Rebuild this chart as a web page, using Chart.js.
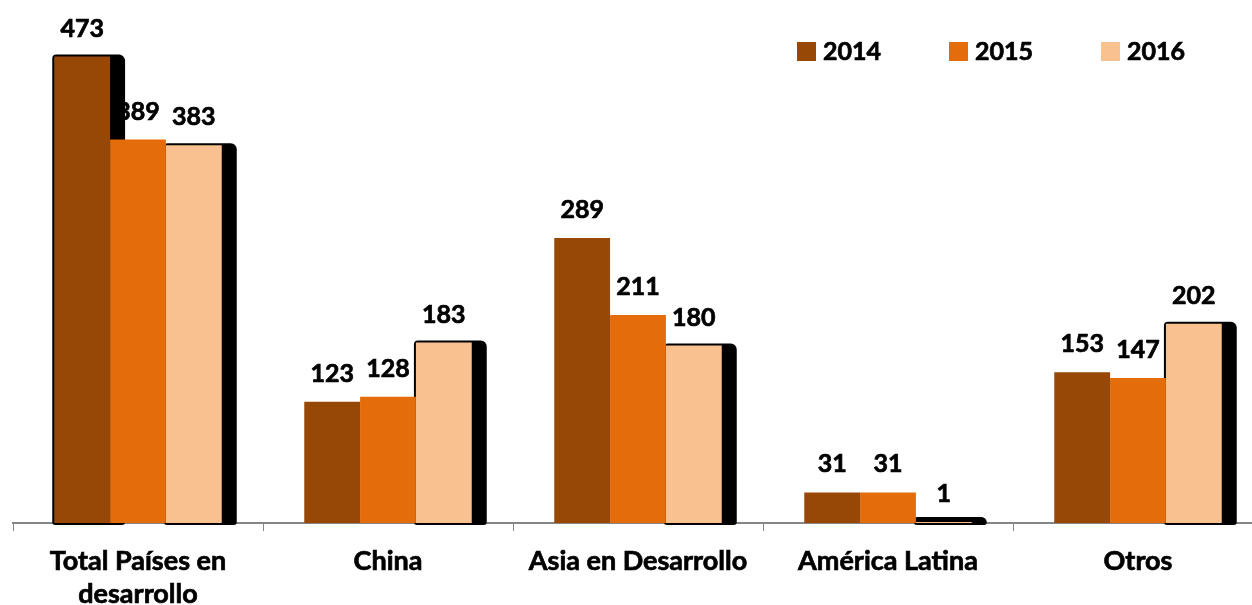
<!DOCTYPE html>
<html lang="es">

<head>
    <meta charset="UTF-8" />
    <title>Países en desarrollo 2014-2016</title>
    <script src="https://cdn.jsdelivr.net/npm/chart.js"></script>
    <style>
        body { margin: 0; background: #fff; overflow: hidden; }
        #wrap { width: 1263px; height: 605px; }
    </style>
</head>

<body>
    <div id="wrap">
        <canvas id="regionChart" width="1263" height="605"></canvas>
    </div>

    <script>
        const categories = [['Total Países en', 'desarrollo'], 'China', 'Asia en Desarrollo', 'América Latina', 'Otros'];
        const years = ['2014', '2015', '2016'];
        const values2014 = [473, 123, 289, 31, 153];
        const values2015 = [389, 128, 211, 31, 147];
        const values2016 = [383, 183, 180, 1, 202];

        const colors = ['#974807', '#E46C0A', '#F9C090'];
        const FONT = 'Lato, "Open Sans", sans-serif';
        const STROKE = 0.7; // thickens the bold text a little

        // bars that get the dark drop shadow: dataset index -> bar indexes (null = all)
        const shadowed = { 0: [0], 2: null };

        function boldText(ctx, text, x, y) {
            ctx.fillText(text, x, y);
            ctx.strokeText(text, x, y);
        }

        const barExtras = {
            id: 'barExtras',
            beforeDatasetsDraw(chart) {
                const ctx = chart.ctx;
                ctx.save();
                // value labels first, the shadows may overlap them
                ctx.font = 'bold 25px ' + FONT;
                ctx.fillStyle = '#000';
                ctx.strokeStyle = '#000';
                ctx.lineWidth = STROKE;
                ctx.textAlign = 'center';
                ctx.textBaseline = 'middle';
                chart.data.datasets.forEach((ds, i) => {
                    chart.getDatasetMeta(i).data.forEach((bar, j) => {
                        boldText(ctx, ds.data[j], bar.x, bar.y - 28);
                    });
                });
                // drop shadows
                Object.keys(shadowed).forEach(key => {
                    const i = Number(key);
                    const meta = chart.getDatasetMeta(i);
                    meta.data.forEach((bar, j) => {
                        if (shadowed[key] && !shadowed[key].includes(j)) return;
                        const left = bar.x - bar.width / 2 - 2;
                        const right = bar.x + bar.width / 2 + 15;
                        const top = Math.min(bar.y - 2, bar.base - 6);
                        const bottom = bar.base + 2;
                        ctx.beginPath();
                        ctx.roundRect(left, top, right - left, bottom - top, [4, 6, 3, 3]);
                        ctx.fill();
                    });
                });
                ctx.restore();
            },
            afterDraw(chart) {
                const ctx = chart.ctx;
                ctx.save();
                ctx.font = 'bold 25px ' + FONT;
                ctx.textBaseline = 'middle';
                ctx.textAlign = 'left';
                ctx.strokeStyle = '#000';
                ctx.lineWidth = STROKE;
                chart.data.datasets.forEach((ds, i) => {
                    const x = 797 + i * 152;
                    ctx.fillStyle = ds.backgroundColor;
                    ctx.fillRect(x, 42, 19, 19);
                    ctx.fillStyle = '#000';
                    boldText(ctx, ds.label, x + 26, 52);
                });
                ctx.restore();
            }
        };

        const ctx = document.getElementById('regionChart').getContext('2d');
        const chart = new Chart(ctx, {
            type: 'bar',
            data: {
                labels: categories,
                datasets: [
                    { label: years[0], data: values2014, backgroundColor: colors[0] },
                    { label: years[1], data: values2015, backgroundColor: colors[1] },
                    { label: years[2], data: values2016, backgroundColor: colors[2] },
                ],
            },
            options: {
                responsive: false,
                animation: false,
                layout: { padding: { top: 30, left: 13, right: 0, bottom: 0 } },
                datasets: {
                    bar: { categoryPercentage: 0.67, barPercentage: 1.0 },
                },
                plugins: {
                    legend: { display: false },
                    tooltip: { enabled: false },
                },
                scales: {
                    x: {
                        grid: {
                            display: true,
                            drawOnChartArea: false,
                            drawTicks: true,
                            tickLength: 8,
                            color: '#868686',
                            offset: true,
                        },
                        border: { display: true, color: '#868686', width: 2 },
                        ticks: {
                            color: '#000',
                            padding: 14,
                            textStrokeColor: '#000',
                            textStrokeWidth: STROKE,
                            font: { family: FONT, size: 27, weight: 'bold', lineHeight: 1.22 },
                        },
                        afterFit(scale) { scale.height = 82; },
                    },
                    y: {
                        display: false,
                        min: 0,
                        max: 500,
                    },
                },
            },
            plugins: [barExtras],
        });
    </script>
</body>

</html>
